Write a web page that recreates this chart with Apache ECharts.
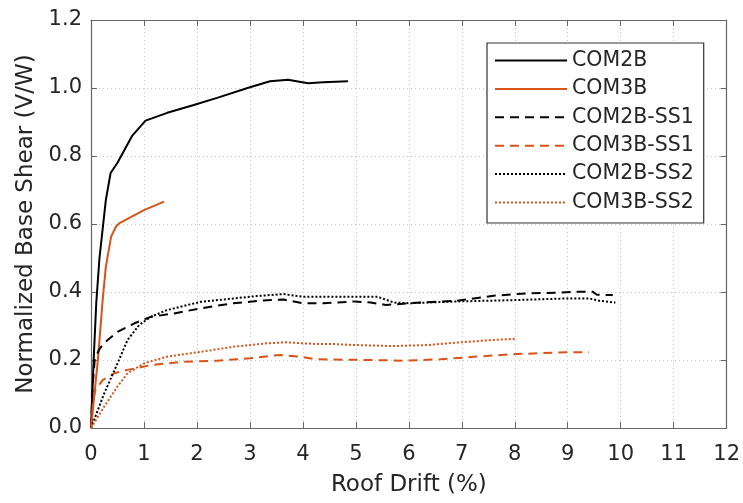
<!DOCTYPE html>
<html><head><meta charset="utf-8">
<script src="https://cdn.jsdelivr.net/npm/echarts@6/dist/echarts.min.js"></script>
<style>html,body{margin:0;padding:0;background:#fff}#c{width:743px;height:503px}</style>
</head><body><div id="c"></div>
<script>
var xTicks = [0,1,2,3,4,5,6,7,8,9,10,11,12];
var yTicks = [0.0,0.2,0.4,0.6,0.8,1.0,1.2];
var seriesNames = ['COM2B','COM3B','COM2B-SS1','COM3B-SS1','COM2B-SS2','COM3B-SS2'];

var com2b = [[0,0],[0.05,0.2],[0.1,0.37],[0.16,0.5],[0.28,0.67],[0.37,0.75],[0.5,0.78],[0.78,0.86],[1.03,0.904],[1.44,0.927],[1.94,0.95],[2.38,0.971],[3.0,1.002],[3.38,1.02],[3.72,1.024],[3.88,1.02],[4.1,1.014],[4.38,1.017],[4.85,1.02]];
var com3b = [[0,0],[0.13,0.2],[0.22,0.376],[0.28,0.474],[0.38,0.563],[0.47,0.592],[0.53,0.602],[1.0,0.641],[1.38,0.666]];
var com2bSS1 = [[0,0],[0.03,0.12],[0.07,0.2],[0.15,0.23],[0.25,0.25],[0.5,0.283],[0.82,0.308],[1.13,0.327],[1.57,0.337],[2.07,0.352],[2.69,0.367],[3.32,0.376],[3.63,0.378],[4.0,0.367],[4.38,0.367],[4.97,0.372],[5.28,0.369],[5.57,0.362],[6.22,0.369],[6.91,0.374],[7.22,0.381],[7.6,0.389],[8.22,0.396],[8.78,0.398],[9.16,0.401],[9.47,0.401],[9.55,0.392],[9.85,0.391]];
var com3bSS1 = [[0,0],[0.04,0.08],[0.08,0.11],[0.22,0.141],[0.44,0.161],[0.69,0.171],[1.13,0.185],[1.75,0.195],[2.38,0.198],[3.0,0.205],[3.57,0.215],[3.94,0.21],[4.25,0.202],[5.22,0.2],[5.91,0.198],[6.6,0.202],[7.28,0.21],[7.97,0.217],[8.97,0.223],[9.4,0.223]];
var com2bSS2 = [[0,0],[0.25,0.102],[0.5,0.19],[0.69,0.259],[0.91,0.303],[1.13,0.327],[1.44,0.347],[1.75,0.359],[2.07,0.371],[2.69,0.381],[3.13,0.388],[3.63,0.394],[4.0,0.386],[4.47,0.386],[5.41,0.386],[5.72,0.369],[6.03,0.367],[6.85,0.372],[7.97,0.376],[8.97,0.381],[9.41,0.381],[9.6,0.374],[9.9,0.369]];
var com3bSS2 = [[0,0],[0.25,0.063],[0.5,0.122],[0.69,0.161],[1.0,0.19],[1.44,0.21],[2.07,0.224],[2.69,0.239],[3.32,0.249],[3.69,0.252],[4.25,0.247],[4.57,0.247],[4.97,0.244],[5.72,0.241],[6.35,0.244],[6.97,0.252],[7.6,0.259],[8.0,0.262]];

var BLACK = '#000000', ORANGE = '#D95319';
var seriesData = [com2b, com3b, com2bSS1, com3bSS1, com2bSS2, com3bSS2];
var colors = [BLACK, ORANGE, BLACK, ORANGE, BLACK, ORANGE];
var types = ['solid','solid',[9,6],[9,6],[2,2],[2,2]];

var chart = echarts.init(document.getElementById('c'), null, {renderer:'canvas'});
var font = 'DejaVu Sans, Liberation Sans, sans-serif';
var textColor = '#262626';
var axisColor = '#666';

function xAx(pos, show) {
  return {
    type:'value', position:pos, min:0, max:12, interval:1,
    name: show ? 'Roof Drift (%)' : '', nameLocation:'middle', nameGap:46,
    nameTextStyle:{fontFamily:font, fontSize:23, color:textColor},
    axisLine:{show:true, onZero:false, lineStyle:{color:axisColor, width:1.2}},
    axisTick:{show:true, inside:true, length:6, lineStyle:{color:axisColor}},
    axisLabel:{show:show, margin:16, fontFamily:font, fontSize:21, color:textColor,
      formatter:function(v){return String(v);}},
    splitLine:{show:show, lineStyle:{color:'#c8c8c8', type:[1,3], width:1}}
  };
}
function yAx(pos, show) {
  return {
    type:'value', position:pos, min:0, max:1.2, interval:0.2,
    name: show ? 'Normalized Base Shear (V/W)' : '', nameLocation:'middle', nameGap:53,
    nameTextStyle:{fontFamily:font, fontSize:23, color:textColor},
    axisLine:{show:true, onZero:false, lineStyle:{color:axisColor, width:1.2}},
    axisTick:{show:true, inside:true, length:6, lineStyle:{color:axisColor}},
    axisLabel:{show:show, margin:9, fontFamily:font, fontSize:21, color:textColor,
      formatter:function(v){return v.toFixed(1);}},
    splitLine:{show:show, lineStyle:{color:'#c8c8c8', type:[1,3], width:1}}
  };
}

var series = seriesNames.map(function(n, i){
  return {
    name:n, type:'line', xAxisIndex:0, yAxisIndex:0, data:seriesData[i],
    showSymbol:false, symbol:'none', smooth:false, animation:false,
    lineStyle:{color:colors[i], width:2, type:types[i]},
    itemStyle:{color:colors[i]}
  };
});

chart.setOption({
  animation:false,
  backgroundColor:'#fff',
  grid:{left:91, right:11, top:20, bottom:75, containLabel:false},
  xAxis:[xAx('bottom', true), xAx('top', false)],
  yAxis:[yAx('left', true), yAx('right', false)],
  legend:{
    left:487, top:43, orient:'vertical',
    data:seriesNames,
    itemWidth:72, itemHeight:20, itemGap:7.4,
    padding:[7,10,10,7],
    backgroundColor:'#fff', borderColor:'#333', borderWidth:1.2,
    itemStyle:{opacity:0, borderWidth:0},
    textStyle:{fontFamily:font, fontSize:20.5, color:textColor}
  },
  series:series
});
</script></body></html>
